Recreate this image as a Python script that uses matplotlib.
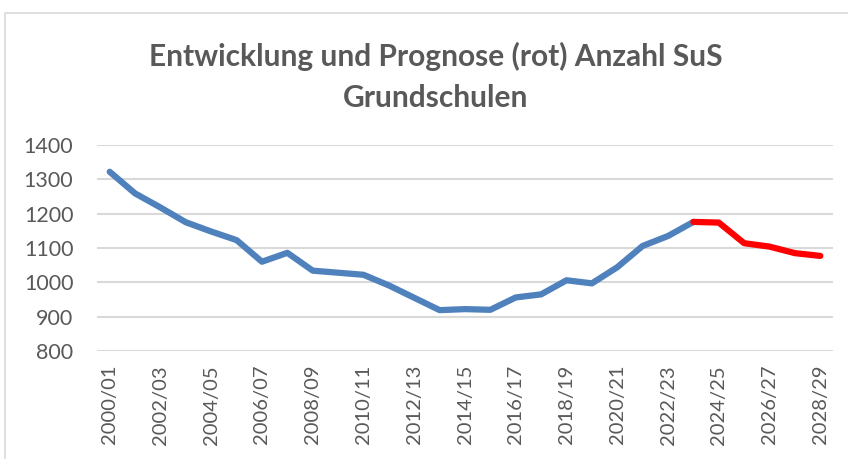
import matplotlib.pyplot as plt
from matplotlib.patches import Rectangle

# school years 2000/01 .. 2028/29
years = [f"{y}/{(y + 1) % 100:02d}" for y in range(2000, 2029)]

# actual pupil counts (blue) up to 2023/24
actual = [1322, 1259, 1218, 1175, 1148, 1123, 1060, 1086, 1034, 1028,
          1022, 991, 955, 919, 922, 920, 956, 965, 1006, 997,
          1044, 1106, 1135, 1176]

# forecast (red) from 2023/24 on
forecast = [1176, 1174, 1114, 1104, 1085, 1077]

title = "Entwicklung und Prognose (rot) Anzahl SuS\nGrundschulen"

plt.rcParams['font.family'] = ['Lato', 'DejaVu Sans']

fig = plt.figure(figsize=(8.48, 4.59), dpi=100)
ax = fig.add_axes([97 / 848, 1 - 351 / 459, 736 / 848, 206 / 459])

# chart border like the Excel chart area
fig.patches.append(Rectangle((5 / 848, -0.1), 1.2, 1 - 13 / 459 + 0.1,
                             transform=fig.transFigure, fill=False,
                             edgecolor="#d9d9d9", linewidth=1.2))

x_actual = list(range(len(actual)))
x_forecast = list(range(len(actual) - 1, len(actual) - 1 + len(forecast)))

ax.plot(x_actual, actual, color="#4f81bd", linewidth=4.5,
        solid_capstyle="round", solid_joinstyle="round", zorder=3)
ax.plot(x_forecast, forecast, color="#ff0000", linewidth=4.5,
        solid_capstyle="round", solid_joinstyle="round", zorder=3)

ax.set_xlim(-0.5, len(years) - 0.5)
ax.set_ylim(800, 1400)
ax.set_yticks(range(800, 1401, 100))
ax.set_xticks(range(0, len(years), 2))
ax.set_xticklabels(years[::2], rotation=90)

ax.grid(axis="y", color="#d9d9d9", linewidth=1.5)
ax.set_axisbelow(True)
for spine in ax.spines.values():
    spine.set_visible(False)
ax.tick_params(axis="both", length=0, colors="#595959")
ax.tick_params(axis="y", labelsize=15.5, pad=17)
ax.tick_params(axis="x", labelsize=14.5, pad=10)

fig.text(436 / 848, 1 - 77 / 459, title, ha="center", va="center",
         fontsize=21.5, fontweight="bold", color="#595959", linespacing=1.55)

fig.savefig("out.png", dpi=100)
